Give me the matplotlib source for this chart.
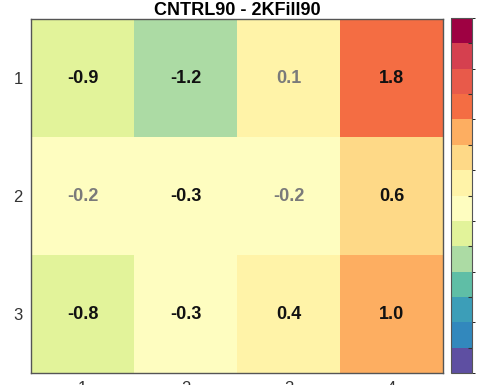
import numpy as np
import matplotlib.pyplot as plt
from matplotlib.colors import BoundaryNorm, ListedColormap

plt.rcParams['font.family'] = ['Liberation Sans', 'DejaVu Sans']

title = "CNTRL90 - 2KFill90"
row_labels = ["1", "2", "3"]
col_labels = ["1", "2", "3", "4"]
diff = np.array([
    [-0.9, -1.2, 0.1, 1.8],
    [-0.2, -0.3, -0.2, 0.6],
    [-0.8, -0.3, 0.4, 1.0],
])
# cells whose difference is not significant get grey labels
signif = np.array([
    [True, True, False, True],
    [False, True, False, True],
    [True, True, True, True],
])

# 14-step diverging palette, blue (negative) to red (positive)
palette = ['#5e4fa2', '#3288bd', '#3c9eb8', '#5fbea6', '#acdba4', '#e2f39a', '#fefdc0',
           '#fff3a8', '#fed987', '#fdae61', '#f46d43', '#e85a4a', '#d5404f', '#9e0142']
levels = np.arange(-3.5, 3.51, 0.5)
cmap = ListedColormap(palette)
norm = BoundaryNorm(levels, cmap.N)

fig = plt.figure(figsize=(4.78, 3.85), dpi=100)
ax = fig.add_axes([31 / 478, 12 / 385, 412 / 478, 354 / 385])
cax = fig.add_axes([451 / 478, 12 / 385, 21 / 478, 355 / 385])

im = ax.pcolormesh(np.arange(5) + 0.5, np.arange(4) + 0.5, diff, cmap=cmap, norm=norm)
ax.set_xlim(0.5, 4.5)
ax.set_ylim(3.5, 0.5)
ax.set_xticks(np.arange(1, 5), col_labels)
ax.set_yticks(np.arange(1, 4), row_labels)
ax.tick_params(length=0, labelsize=12, colors='#333333', pad=6)
for s in ax.spines.values():
    s.set_color('#555555')
    s.set_linewidth(1.0)

for i in range(diff.shape[0]):
    for j in range(diff.shape[1]):
        ax.text(j + 1, i + 1, f"{diff[i, j]:.1f}", ha='center', va='center',
                fontsize=13, fontweight='bold',
                color='#111111' if signif[i, j] else '#7a7a7a')

ax.set_title(title, fontsize=13, fontweight='bold', pad=2)

cb = fig.colorbar(im, cax=cax, ticks=np.arange(-3, 4, 1))
cb.outline.set_edgecolor('#555555')
cb.ax.tick_params(direction='in', length=3, width=0.8, labelsize=9, colors='#333333', pad=6)

fig.savefig("out.png", dpi=100)
